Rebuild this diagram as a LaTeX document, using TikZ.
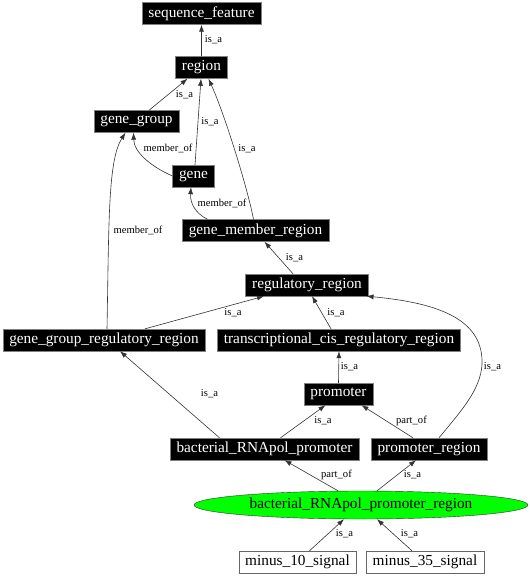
\documentclass[tikz,border=0pt]{standalone}
\usepackage{fontspec}
\setmainfont{Liberation Serif}
\usetikzlibrary{shapes.geometric,arrows.meta}
\tikzset{
	term/.style={fill=black, draw=black!50, text=white, font=\fontsize{15.3}{16}\selectfont, inner xsep=6.5pt, inner ysep=0pt, minimum height=22pt},
	leaf/.style={fill=white, draw=black!60, text=black, font=\fontsize{15.3}{16}\selectfont, inner xsep=6.5pt, inner ysep=0pt, minimum height=22pt},
	focus/.style={ellipse, fill=green, draw=black!80, font=\fontsize{15.3}{16}\selectfont, minimum width=334pt, minimum height=28pt, inner sep=0pt},
	rel/.style={draw=black!80, line width=0.6pt, -{Latex[length=7pt,width=5pt]}},
	lbl/.style={font=\fontsize{10.6}{11}\selectfont, inner sep=0pt}
}

\begin{document}
\begin{tikzpicture}[x=1pt, y=-1pt]
			%%%%% START %%%%%
			\useasboundingbox (0, 0) rectangle (530, 576);
			
			\node[term] (seqfeat) at (201.5, 13.5) {sequence\_feature};
			\node[term] (region) at (201.5, 67.5) {region};
			\node[term] (genegroup) at (136.5, 121.5) {gene\_group};
			\node[term] (gene) at (193.5, 176) {gene};
			\node[term] (gmr) at (255.5, 230.5) {gene\_member\_region};
			\node[term] (regreg) at (307, 285) {regulatory\_region};
			\node[term] (ggrr) at (104, 340) {gene\_group\_regulatory\_region};
			\node[term] (tcrr) at (339, 340) {transcriptional\_cis\_regulatory\_region};
			\node[term] (promoter) at (338.5, 394) {promoter};
			\node[term] (brp) at (264.5, 449) {bacterial\_RNApol\_promoter};
			\node[term] (promreg) at (429, 449) {promoter\_region};
			\node[focus] (brpr) at (361, 505) {bacterial\_RNApol\_promoter\_region};
			\node[leaf] (m10) at (297.5, 562) {minus\_10\_signal};
			\node[leaf] (m35) at (425, 562) {minus\_35\_signal};
			
			% upper part
			\draw[rel] (region.north) -- (seqfeat.south) node[lbl] (l1) at (213.5, 40) {is\_a};
			\draw[rel] ([xshift=12.5pt]genegroup.north) -- ([xshift=-14pt]region.south) node[lbl] (l2) at (184.5, 95) {is\_a};
			\draw[rel] ([xshift=1.5pt]gene.north) -- ([xshift=-0.5pt]region.south) node[lbl] (l3) at (210, 122) {is\_a};
			\draw[rel] ([xshift=-2pt]gmr.north) .. controls (248, 190) and (225, 115) .. ([xshift=7pt]region.south) node[lbl] (l4) at (247, 149) {is\_a};
			\draw[rel] (gene.west) .. controls (150, 166) and (134, 152) .. ([xshift=-3pt]genegroup.south) node[lbl] (l5) at (168, 148) {member\_of};
			\draw[rel] ([xshift=-48pt]gmr.north) .. controls (195, 213) and (190, 203) .. ([xshift=-2.5pt]gene.south) node[lbl] (l6) at (222, 203) {member\_of};
			\draw[rel] ([xshift=3pt]ggrr.north) .. controls (109, 220) and (108, 160) .. ([xshift=-11pt]genegroup.south) node[lbl] (l7) at (138, 230) {member\_of};
			
			% regulatory part
			\draw[rel] ([xshift=-14pt]regreg.north) -- ([xshift=9pt]gmr.south) node[lbl] (l8) at (294.5, 258) {is\_a};
			\draw[rel] ([xshift=41pt]ggrr.north) -- ([xshift=-43pt]regreg.south) node[lbl] (l9) at (233, 313) {is\_a};
			\draw[rel] ([xshift=-8pt]tcrr.north) -- ([xshift=5pt]regreg.south) node[lbl] (l10) at (336, 313) {is\_a};
			\draw[rel] ([xshift=10pt]promreg.north) .. controls (462, 410) and (480, 390) .. (482, 365) .. controls (484, 320) and (440, 303) .. ([xshift=-2pt]regreg.south east) node[lbl] (l11) at (492.5, 367) {is\_a};
			\draw[rel] (promoter.north) -- (tcrr.south) node[lbl] (l12) at (349.5, 367) {is\_a};
			
			% promoter part
			\draw[rel] ([xshift=-45pt]brp.north) -- ([xshift=16pt]ggrr.south) node[lbl] (l13) at (209.5, 394) {is\_a};
			\draw[rel] ([xshift=16pt]brp.north) -- ([xshift=-13pt]promoter.south) node[lbl] (l14) at (323, 421) {is\_a};
			\draw[rel] ([xshift=-16pt]promreg.north) -- ([xshift=23pt]promoter.south) node[lbl] (l15) at (411.5, 421) {part\_of};
			\draw[rel] ([xshift=-23pt]brpr.north) -- ([xshift=20pt]brp.south) node[lbl] (l16) at (336.5, 475) {part\_of};
			\draw[rel] ([xshift=16pt]brpr.north) -- ([xshift=-13pt]promreg.south) node[lbl] (l17) at (412.5, 475) {is\_a};
			\draw[rel] ([xshift=12pt]m10.north) -- ([xshift=-17pt]brpr.south) node[lbl] (l18) at (344.5, 534) {is\_a};
			\draw[rel] ([xshift=-13pt]m35.north) -- ([xshift=16pt]brpr.south) node[lbl] (l19) at (409.5, 534) {is\_a};
			
			%%%%% END %%%%%
		\end{tikzpicture}
\end{document}
